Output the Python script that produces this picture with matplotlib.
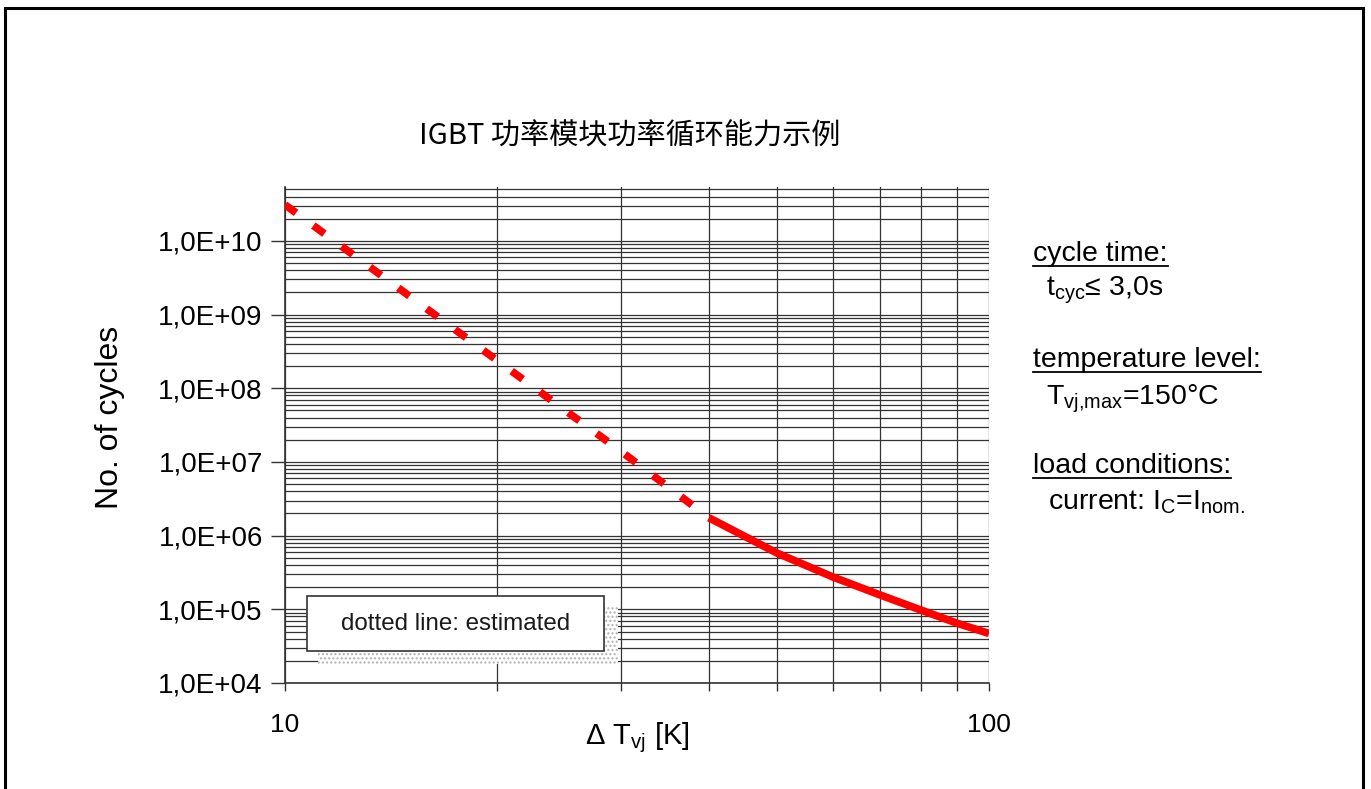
import numpy as np
import matplotlib
matplotlib.use("Agg")
import matplotlib.pyplot as plt
from matplotlib.patches import Rectangle
from matplotlib.lines import Line2D
from matplotlib.ticker import FixedLocator, LogLocator, NullFormatter

plt.rcParams["font.family"] = ["Liberation Sans", "DejaVu Sans"]
plt.rcParams["mathtext.fontset"] = "custom"
plt.rcParams["mathtext.rm"] = "Liberation Sans"
plt.rcParams["mathtext.it"] = "Liberation Sans:italic"

# estimated (dashed) part of the curve
dt_est = [10, 20, 30, 40]
n_est = [3.1e10, 2.4e8, 1.4e7, 1.75e6]
# measured (solid) part
dt_meas = [40, 50, 60, 70, 80, 90, 100]
n_meas = [1.75e6, 5.8e5, 2.75e5, 1.57e5, 9.8e4, 6.5e4, 4.7e4]

y_ticks = [1e4, 1e5, 1e6, 1e7, 1e8, 1e9, 1e10]
y_labels = ["1,0E+04", "1,0E+05", "1,0E+06", "1,0E+07", "1,0E+08", "1,0E+09", "1,0E+10"]
x_ticks = [10, 100]
x_labels = ["10", "100"]

W, H = 1371, 789
fig = plt.figure(figsize=(W / 100, H / 100), dpi=100)


def fx(px):
    return px / W


def fy(py):
    return 1 - py / H


ax = fig.add_axes([fx(285), fy(683), fx(989) - fx(285), fy(187) - fy(683)])
ax.set_xscale("log")
ax.set_yscale("log")
ax.set_xlim(10, 100)
ax.set_ylim(1e4, 5.4e10)

ax.plot(dt_est, n_est, color="#ff0000", lw=5.5, dashes=(1.8, 2.8),
        dash_capstyle="butt", zorder=3)
ax.plot(dt_meas, n_meas, color="#ff0000", lw=5.5, solid_capstyle="butt", zorder=3)

ax.xaxis.set_major_locator(FixedLocator(x_ticks))
ax.set_xticklabels(x_labels)
ax.xaxis.set_minor_locator(LogLocator(base=10, subs=np.arange(2, 10)))
ax.xaxis.set_minor_formatter(NullFormatter())
ax.yaxis.set_major_locator(FixedLocator(y_ticks))
ax.set_yticklabels(y_labels)
ax.yaxis.set_minor_locator(LogLocator(base=10, subs=np.arange(2, 10), numticks=20))
ax.yaxis.set_minor_formatter(NullFormatter())

ax.tick_params(axis="x", which="both", direction="out", length=5.8, width=1,
               color="#333333", labelsize=19, pad=15.5)
ax.tick_params(axis="y", which="major", direction="out", length=10, width=1,
               color="#333333", labelsize=20, pad=6)
ax.tick_params(axis="y", which="minor", length=0)

ax.grid(which="both", color="#333333", lw=0.9)
ax.set_axisbelow(True)
for s in ["top", "right"]:
    ax.spines[s].set_visible(False)
for s in ["left", "bottom"]:
    ax.spines[s].set_color("#333333")
    ax.spines[s].set_linewidth(1.2)

ax.set_xlabel(r"Δ $\mathregular{T_{vj}}$ [K]", fontsize=21)
ax.xaxis.set_label_coords((637 - 285) / 704, (683 - 738) / 496)
ax.xaxis.label.set_va("center")
ax.set_ylabel("No. of cycles", fontsize=23)
ax.yaxis.set_label_coords((110 - 285) / 704, (683 - 417) / 496)
ax.yaxis.label.set_va("center")

# note box with dotted shadow
def ax_box(x0, y0, x1, y1):
    return ((x0 - 285) / 704, (683 - y1) / 496), (x1 - x0) / 704, (y1 - y0) / 496

xy, w, h = ax_box(318, 607, 618, 664)
ax.add_patch(Rectangle(xy, w, h, transform=ax.transAxes, facecolor="white",
                       hatch="....", edgecolor="#b0b0b0", lw=0, zorder=4))
xy, w, h = ax_box(307, 596, 604, 651)
ax.add_patch(Rectangle(xy, w, h, transform=ax.transAxes, facecolor="white",
                       edgecolor="#333333", lw=1.2, zorder=5))
ax.text(xy[0] + w / 2, xy[1] + h / 2, "dotted line: estimated", transform=ax.transAxes,
        ha="center", va="center", fontsize=17.4, color="#1a1a1a", zorder=6)

fig.text(fx(630), fy(137), "IGBT 功率模块功率循环能力示例", ha="center", va="center",
         fontsize=21, family=["Noto Sans CJK SC", "DejaVu Sans"])

# conditions on the right
headings = [("cycle time:", 261), ("temperature level:", 367), ("load conditions:", 473)]
details = [(r"$\mathregular{t_{cyc}}$≤ 3,0s", 1046, 296),
           (r"$\mathregular{T_{vj{,}max}}$=150°C", 1046, 405),
           (r"current: $\mathregular{I_C}$=$\mathregular{I_{nom.}}$", 1048, 510)]
head_texts = []
for label, y in headings:
    head_texts.append(fig.text(fx(1033), fy(y), label, ha="left", va="baseline", fontsize=20.5))
for label, x, y in details:
    fig.text(fx(x), fy(y), label, ha="left", va="baseline", fontsize=20.5)

fig.canvas.draw()
renderer = fig.canvas.get_renderer()
for t, (label, y) in zip(head_texts, headings):
    bb = t.get_window_extent(renderer)
    yy = fy(y + 5)
    fig.add_artist(Line2D([bb.x0 / W, bb.x1 / W], [yy, yy], transform=fig.transFigure,
                          color="black", lw=1.3))

# outer frame
fig.add_artist(Rectangle((fx(5), -0.05), fx(1363) - fx(5), fy(8) + 0.05,
                         transform=fig.transFigure, fill=False, lw=2.2, edgecolor="black"))

fig.savefig("out.png", dpi=100)
